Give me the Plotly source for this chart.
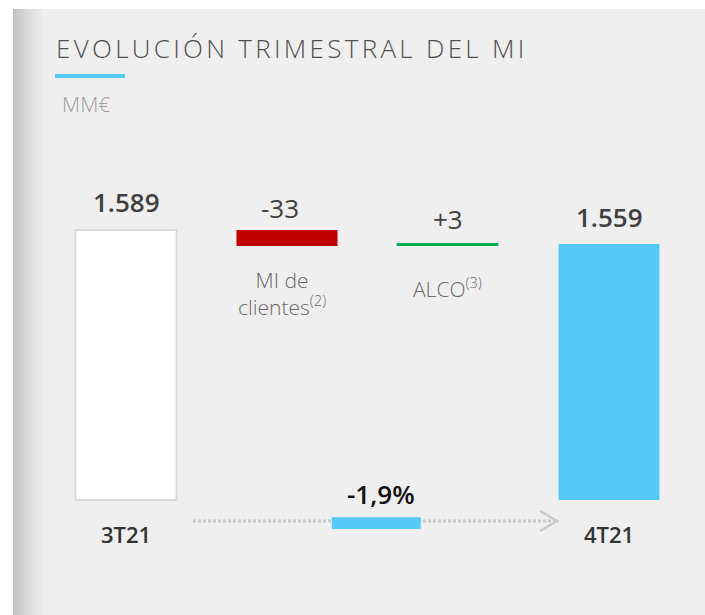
import plotly.graph_objects as go

# ---------------- data ----------------
categories = ["3T21", "MI de clientes", "ALCO", "4T21"]
start_value = 1589
deltas = [-33, 3]
end_value = 1559
value_labels = ["1.589", "-33", "+3", "1.559"]
driver_labels = ["MI de<br>clientes<sup>(2)</sup>", "ALCO<sup>(3)</sup>"]
period_labels = ["3T21", "4T21"]
change_label = "-1,9%"
title_text = "EVOLUCIÓN TRIMESTRAL DEL MI"
unit_text = "MM€"

# ---------------- layout helpers ----------------
W, H = 705, 615
FONT = "Open Sans"
BLUE = "#56CAF5"
RED = "#C00000"
GREEN = "#00B050"
axis_floor = 1000          # broken axis floor (bars start here)
px_per_unit = 0.4576
floor_px = 500


def px(x):
    return x / W


def py(y):
    return 1 - y / H


# waterfall geometry from the data
xs = list(range(len(categories)))
bases = [axis_floor]
heights = [start_value - axis_floor]
level = start_value
for d in deltas:
    bases.append(level)
    heights.append(d)
    level += d
bases.append(axis_floor)
heights.append(end_value - axis_floor)
tops = [b + max(h, 0) for b, h in zip(bases, heights)]
bottoms = [b + min(h, 0) for b, h in zip(bases, heights)]

fill_colors = ["#FFFFFF", RED, GREEN, BLUE]
line_colors = ["#DADADA", RED, GREEN, BLUE]
line_widths = [2, 0, 1, 0]

fig = go.Figure()
fig.add_trace(go.Bar(
    x=xs, y=heights, base=bases, width=0.627,
    marker=dict(color=fill_colors, line=dict(color=line_colors, width=line_widths)),
    hoverinfo="skip", showlegend=False,
))

ymin = axis_floor - (H - floor_px) / px_per_unit
ymax = axis_floor + floor_px / px_per_unit

shapes = []
# panel background
shapes.append(dict(type="rect", xref="paper", yref="paper", x0=px(13), x1=1, y0=0, y1=py(9),
                   fillcolor="#EFEFEF", line=dict(width=0), layer="below"))
# left shadow gradient
n = 32
c0, c1 = 0xC0, 0xEF
for i in range(n):
    t = i / (n - 1)
    c = int(round(c0 + (c1 - c0) * (t ** 0.8)))
    col = f"#{c:02x}{c:02x}{c:02x}"
    shapes.append(dict(type="rect", xref="paper", yref="paper", x0=px(13 + i), x1=px(14.2 + i),
                       y0=0, y1=py(9), fillcolor=col, line=dict(width=0), layer="below"))
# title underline
shapes.append(dict(type="rect", xref="paper", yref="paper", x0=px(55), x1=px(125), y0=py(78), y1=py(74),
                   fillcolor=BLUE, line=dict(width=0)))
# dotted arrow line
shapes.append(dict(type="line", xref="paper", yref="paper", x0=px(193), x1=px(554), y0=py(521), y1=py(521),
                   line=dict(color="#C8C8C8", width=3, dash="3px,2px")))
shapes.append(dict(type="path", xref="paper", yref="paper",
                   path=f"M {px(540)} {py(511)} L {px(557)} {py(521)} L {px(540)} {py(531)}",
                   line=dict(color="#C8C8C8", width=2.5)))
# change marker
shapes.append(dict(type="rect", xref="paper", yref="paper", x0=px(331.7), x1=px(420.7), y0=py(529), y1=py(517.3),
                   fillcolor=BLUE, line=dict(width=0)))

ann = []
ann.append(dict(xref="paper", yref="paper", x=px(54), y=py(48), xanchor="left", yanchor="middle",
                text=f'<span style="letter-spacing:3.3px">{title_text}</span>', showarrow=False,
                font=dict(family=FONT, size=26, color="#505050", weight=300)))
ann.append(dict(xref="paper", yref="paper", x=px(60), y=py(104), xanchor="left", yanchor="middle",
                text=unit_text, showarrow=False,
                font=dict(family=FONT, size=21, color="#A0A0A0", weight=300)))

# value labels
value_shift = [28.5, 22.5, 25, 27.5]
value_x_shift = [0, -7, 0, 0]
value_weight = [600, 400, 400, 600]
for i, lab in enumerate(value_labels):
    ann.append(dict(x=xs[i], y=tops[i], xref="x", yref="y", text=lab, showarrow=False,
                    yanchor="middle", yshift=value_shift[i], xshift=value_x_shift[i],
                    font=dict(family=FONT, size=26, color="#404040", weight=value_weight[i])))

# driver labels
driver_shift = [-47.5, -41.5]
driver_x_shift = [-5, -1]
for j, lab in enumerate(driver_labels):
    i = j + 1
    ann.append(dict(x=xs[i], y=bottoms[i], xref="x", yref="y", text=lab, showarrow=False,
                    yanchor="middle", yshift=driver_shift[j], xshift=driver_x_shift[j],
                    font=dict(family=FONT, size=21, color="#6A6A6A", weight=300)))

# period labels
for k, lab in zip([0, len(categories) - 1], period_labels):
    ann.append(dict(x=xs[k], y=axis_floor, xref="x", yref="y", text=lab, showarrow=False,
                    yanchor="middle", yshift=-34,
                    font=dict(family=FONT, size=22, color="#333333", weight=600)))

# change label
ann.append(dict(xref="paper", yref="paper", x=px(381.5), y=py(494), xanchor="center", yanchor="middle",
                text=change_label, showarrow=False,
                font=dict(family=FONT, size=26, color="#111111", weight=600)))

fig.update_layout(
    width=W, height=H,
    margin=dict(l=0, r=0, t=0, b=0),
    paper_bgcolor="#FFFFFF", plot_bgcolor="rgba(0,0,0,0)",
    xaxis=dict(domain=[px(45.5), px(689.5)], range=[-0.5, 3.5], visible=False, fixedrange=True),
    yaxis=dict(domain=[0, 1], range=[ymin, ymax], visible=False, fixedrange=True),
    shapes=shapes, annotations=ann, bargap=0,
    font=dict(family=FONT),
)

fig.write_html("out.html", config={"displayModeBar": False},
               post_script="document.body.style.margin='0';document.body.style.overflow='hidden';")
